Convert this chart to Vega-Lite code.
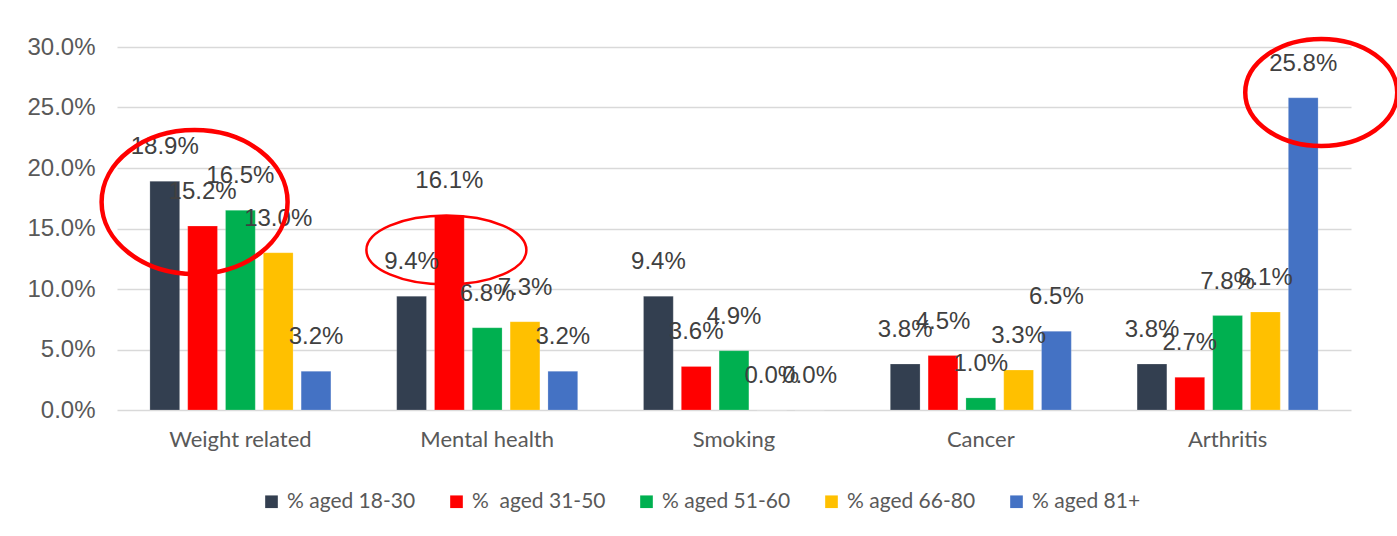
{
  "$schema": "https://vega.github.io/schema/vega-lite/v6.json",
  "autosize": "none",
  "width": 1234,
  "height": 363,
  "padding": {"left": 117, "top": 47, "right": 46, "bottom": 126},
  "background": "white",
  "config": {"view": {"stroke": null}},
  "datasets": {
    "rates": [
      {"category": "Weight related", "series": "% aged 18-30", "value": 0.189},
      {"category": "Weight related", "series": "%\u00a0 aged 31-50", "value": 0.152},
      {"category": "Weight related", "series": "% aged 51-60", "value": 0.165},
      {"category": "Weight related", "series": "% aged 66-80", "value": 0.130},
      {"category": "Weight related", "series": "% aged 81+", "value": 0.032},
      {"category": "Mental health", "series": "% aged 18-30", "value": 0.094},
      {"category": "Mental health", "series": "%\u00a0 aged 31-50", "value": 0.161},
      {"category": "Mental health", "series": "% aged 51-60", "value": 0.068},
      {"category": "Mental health", "series": "% aged 66-80", "value": 0.073},
      {"category": "Mental health", "series": "% aged 81+", "value": 0.032},
      {"category": "Smoking", "series": "% aged 18-30", "value": 0.094},
      {"category": "Smoking", "series": "%\u00a0 aged 31-50", "value": 0.036},
      {"category": "Smoking", "series": "% aged 51-60", "value": 0.049},
      {"category": "Smoking", "series": "% aged 66-80", "value": 0.000},
      {"category": "Smoking", "series": "% aged 81+", "value": 0.000},
      {"category": "Cancer", "series": "% aged 18-30", "value": 0.038},
      {"category": "Cancer", "series": "%\u00a0 aged 31-50", "value": 0.045},
      {"category": "Cancer", "series": "% aged 51-60", "value": 0.010},
      {"category": "Cancer", "series": "% aged 66-80", "value": 0.033},
      {"category": "Cancer", "series": "% aged 81+", "value": 0.065},
      {"category": "Arthritis", "series": "% aged 18-30", "value": 0.038},
      {"category": "Arthritis", "series": "%\u00a0 aged 31-50", "value": 0.027},
      {"category": "Arthritis", "series": "% aged 51-60", "value": 0.078},
      {"category": "Arthritis", "series": "% aged 66-80", "value": 0.081},
      {"category": "Arthritis", "series": "% aged 81+", "value": 0.258}
    ],
    "highlights": [
      {"id": "a", "category": "Weight related", "series": "%\u00a0 aged 31-50", "value": 0.1719},
      {"id": "b", "category": "Mental health", "series": "%\u00a0 aged 31-50", "value": 0.1322},
      {"id": "c", "category": "Arthritis", "series": "% aged 81+", "value": 0.2624}
    ]
  },
  "encoding": {
    "x": {
      "field": "category", "type": "nominal",
      "sort": ["Weight related", "Mental health", "Smoking", "Cancer", "Arthritis"],
      "scale": {"paddingInner": 0.234, "paddingOuter": 0.117},
      "axis": {
        "title": null, "domain": false, "ticks": false, "labelAngle": 0,
        "labelFont": "Lato", "labelFontSize": 22, "labelColor": "#595959",
        "labelPadding": 19
      }
    },
    "xOffset": {
      "field": "series", "type": "nominal",
      "sort": ["% aged 18-30", "%\u00a0 aged 31-50", "% aged 51-60", "% aged 66-80", "% aged 81+"],
      "scale": {"paddingInner": 0.213, "paddingOuter": 0.1065}
    },
    "y": {
      "field": "value", "type": "quantitative",
      "scale": {"domain": [0, 0.3], "nice": false, "zero": true},
      "axis": {
        "title": null, "domain": false, "ticks": false,
        "values": [0, 0.05, 0.1, 0.15, 0.2, 0.25, 0.3], "format": ".1%",
        "labelFont": "Liberation Sans", "labelFontSize": 24, "labelColor": "#595959",
        "labelPadding": 22,
        "gridColor": "#D9D9D9", "gridWidth": 1.5
      }
    }
  },
  "layer": [
    {
      "data": {"name": "rates"},
      "mark": {"type": "bar", "stroke": "white", "strokeWidth": 0.5, "strokeOpacity": 0.4},
      "encoding": {
        "color": {
          "field": "series", "type": "nominal",
          "sort": ["% aged 18-30", "%\u00a0 aged 31-50", "% aged 51-60", "% aged 66-80", "% aged 81+"],
          "scale": {
            "domain": ["% aged 18-30", "%\u00a0 aged 31-50", "% aged 51-60", "% aged 66-80", "% aged 81+"],
            "range": ["#333F50", "#FF0000", "#00B050", "#FFC000", "#4472C4"]
          },
          "legend": {
            "title": null, "orient": "none", "direction": "horizontal",
            "legendX": 144, "legendY": 444,
            "symbolType": "square", "symbolSize": 160, "symbolStrokeWidth": 0,
            "labelFont": "Lato", "labelFontSize": 21, "labelColor": "#595959",
            "labelOffset": 5, "columnPadding": 30, "labelLimit": 300
          }
        }
      }
    },
    {
      "data": {"name": "rates"},
      "mark": {
        "type": "text", "baseline": "middle", "align": "center", "dy": -34,
        "font": "Liberation Sans", "fontSize": 24, "color": "#404040"
      },
      "encoding": {
        "text": {"field": "value", "type": "quantitative", "format": ".1%"}
      }
    },
    {
      "data": {"name": "highlights"},
      "transform": [{"filter": "datum.id === 'a'"}],
      "mark": {
        "type": "point", "filled": false, "stroke": "#FF0000", "strokeWidth": 4.5, "opacity": 1,
        "shape": "M -1.086 0 A 1 0.774 0 1 1 0.914 0 A 1 0.774 0 1 1 -1.086 0 Z",
        "size": 34596
      },
      "encoding": {}
    },
    {
      "data": {"name": "highlights"},
      "transform": [{"filter": "datum.id === 'b'"}],
      "mark": {
        "type": "point", "filled": false, "stroke": "#FF0000", "strokeWidth": 2.5, "opacity": 1,
        "shape": "M -1.0375 0 A 1 0.431 0 1 1 0.9625 0 A 1 0.431 0 1 1 -1.0375 0 Z",
        "size": 25600
      },
      "encoding": {}
    },
    {
      "data": {"name": "highlights"},
      "transform": [{"filter": "datum.id === 'c'"}],
      "mark": {
        "type": "point", "filled": false, "stroke": "#FF0000", "strokeWidth": 4.5, "opacity": 1,
        "shape": "M -0.763 0 A 1 0.704 0 1 1 1.237 0 A 1 0.704 0 1 1 -0.763 0 Z",
        "size": 23104
      },
      "encoding": {}
    }
  ]
}
